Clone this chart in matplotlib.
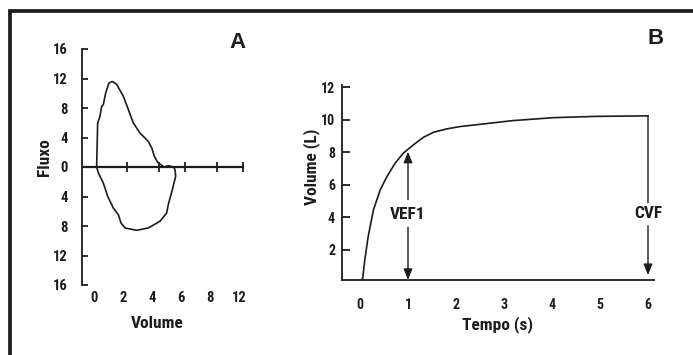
import matplotlib
matplotlib.use("Agg")
import matplotlib.pyplot as plt
from matplotlib.patches import Rectangle
from matplotlib import font_manager

# ---------------- data ----------------
# Panel A: flow-volume loop (expiration = positive, inspiration = negative)
loop_up_x = [0.18, 0.25, 0.41, 0.53, 0.64, 0.80, 1.03, 1.26, 1.56, 2.02, 2.37, 2.71, 3.17, 3.74, 3.98, 4.16, 4.39, 4.62, 4.83, 5.12, 5.47]
loop_up_y = [0.0, 5.97, 6.88, 8.23, 8.45, 10.0, 11.4, 11.6, 11.2, 9.6, 7.77, 5.97, 4.6, 3.48, 2.58, 1.45, 0.64, 0.31, 0.0, 0.18, 0.0]
loop_dn_x = [5.59, 5.63, 5.40, 5.12, 5.01, 4.55, 3.74, 2.94, 2.14, 1.86, 1.68, 1.33, 0.94, 0.64, 0.30, 0.18]
loop_dn_y = [-0.37, -1.26, -3.08, -5.11, -6.24, -7.36, -8.27, -8.58, -8.27, -7.59, -6.47, -5.56, -3.97, -2.17, -0.81, 0.0]
a_yticks = [16, 12, 8, 4, 0, -4, -8, -12, -16]
a_yticklabels = ["16", "12", "8", "4", "0", "4", "8", "12", "16"]
a_xticks = [0, 2, 4, 6, 8, 10]
a_xticklabels = ["0", "2", "4", "6", "8", "12"]
a_zero_ticks = [2.3, 4.5, 6.3, 8.5, 10.3]

# Panel B: volume-time curve
b_t = [0.035, 0.056, 0.10, 0.17, 0.28, 0.42, 0.56, 0.73, 0.90, 1.11, 1.32, 1.53, 1.81, 2.08, 2.5, 3.19, 4.03, 4.93, 6.0]
b_v = [0.15, 0.26, 1.38, 2.82, 4.46, 5.69, 6.51, 7.33, 7.95, 8.46, 8.93, 9.24, 9.45, 9.59, 9.73, 9.96, 10.14, 10.22, 10.25]
b_xticks = [0, 1, 2, 3, 4, 5, 6]
b_yticks = [2, 4, 6, 8, 10, 12]
vef1_t, vef1_v = 1.0, 8.05
cvf_t, cvf_v = 6.0, 10.25

# ---------------- fonts ----------------
names = {f.name for f in font_manager.fontManager.ttflist}
narrow_name = next((n for n in ["Liberation Sans Narrow", "Arial Narrow", "Roboto Condensed",
                                "Open Sans Condensed"] if n in names), None)
if narrow_name:
    NARROW = [narrow_name, "DejaVu Sans"]
    SCALE = 1.0
else:
    NARROW = ["Liberation Sans", "DejaVu Sans"]
    SCALE = 0.92
BOLD = ["Liberation Sans", "DejaVu Sans"]

# ---------------- figure ----------------
W, H = 693, 355
fig = plt.figure(figsize=(W / 100, H / 100), dpi=100)
INK = "#1e1b1c"
TICK_A = 10.5 * SCALE
TICK_B = 10.0 * SCALE
LABEL = 12.5 * SCALE

def fx(px):
    return px / W

def fy(py):
    return 1 - py / H

# outer frame (extends past right/bottom edges)
fig.patches.append(Rectangle((fx(10), fy(400)), fx(800), fy(11.5) - fy(400),
                             transform=fig.transFigure, fill=False,
                             edgecolor=INK, linewidth=2.7, zorder=0))

# ---------- Panel A ----------
a_left, a_right, a_top, a_bot = 82, 253.5, 49, 285
axA = fig.add_axes([fx(a_left), fy(a_bot), (a_right - a_left) / W, (a_bot - a_top) / H])
axA.set_xlim(-0.83, 11)
axA.set_ylim(-16, 16)
axA.patch.set_alpha(0)
for s in ["top", "right", "bottom"]:
    axA.spines[s].set_visible(False)
axA.spines["left"].set_linewidth(1.3)
axA.spines["left"].set_color(INK)
axA.set_yticks(a_yticks)
axA.set_yticklabels(a_yticklabels)
axA.tick_params(axis="y", direction="in", length=4, width=1.3, pad=10, colors=INK)
axA.set_xticks(a_xticks)
axA.set_xticklabels(a_xticklabels)
axA.tick_params(axis="x", length=0, pad=4, colors=INK)
for lab in axA.get_xticklabels() + axA.get_yticklabels():
    lab.set_family(NARROW)
    lab.set_fontweight("bold")
    lab.set_fontsize(TICK_A)
    lab.set_color(INK)

axA.axhline(0, xmin=0, xmax=(10.3 + 0.83) / 11.83, color=INK, lw=1.6)
axA.plot(a_zero_ticks, [0] * len(a_zero_ticks), linestyle="none", marker="|",
         markersize=7, markeredgewidth=1.3, color=INK)
axA.plot(loop_up_x + loop_dn_x, loop_up_y + loop_dn_y, color=INK, lw=1.2,
         solid_joinstyle="round")

fig.text(fx(45), fy(157), "Fluxo", rotation=90, ha="center", va="center",
         family=NARROW, fontweight="bold", fontsize=LABEL, color=INK)
fig.text(fx(157), fy(323), "Volume", ha="center", va="center",
         family=NARROW, fontweight="bold", fontsize=LABEL, color=INK)
fig.text(fx(238), fy(42), "A", ha="center", va="center",
         family=BOLD, fontweight="bold", fontsize=16, color=INK)

# ---------- Panel B ----------
b_left, b_right, b_top, b_bot = 342, 654, 85, 280
axB = fig.add_axes([fx(b_left), fy(b_bot), (b_right - b_left) / W, (b_bot - b_top) / H])
axB.set_xlim(-0.375, 6.125)
axB.set_ylim(0.15, 12.15)
axB.patch.set_alpha(0)
for s in ["top", "right"]:
    axB.spines[s].set_visible(False)
for s in ["left", "bottom"]:
    axB.spines[s].set_linewidth(1.3)
    axB.spines[s].set_color(INK)
axB.set_yticks(b_yticks)
axB.set_xticks(b_xticks)
axB.tick_params(axis="y", direction="in", length=5.5, width=1.3, pad=5, colors=INK)
axB.tick_params(axis="x", length=0, pad=13, colors=INK)
for lab in axB.get_xticklabels() + axB.get_yticklabels():
    lab.set_family(NARROW)
    lab.set_fontweight("bold")
    lab.set_fontsize(TICK_B)
    lab.set_color(INK)

axB.plot(b_t, b_v, color=INK, lw=1.2, solid_joinstyle="round")

arrow_kw = dict(arrowstyle="-|>,head_length=0.55,head_width=0.22", color=INK,
                lw=1.0, shrinkA=0, shrinkB=0, mutation_scale=12)
line_kw = dict(arrowstyle="-", color=INK, lw=1.0, shrinkA=0, shrinkB=0)
# VEF1 double arrow split by label
axB.annotate("", xy=(vef1_t, vef1_v), xytext=(vef1_t, 5.1), arrowprops=arrow_kw)
axB.annotate("", xy=(vef1_t, 0.15), xytext=(vef1_t, 3.4), arrowprops=arrow_kw)
axB.text(vef1_t, 4.2, "VEF1", ha="center", va="center", family=NARROW,
         fontweight="bold", fontsize=LABEL, color=INK)
# CVF arrow split by label
axB.annotate("", xy=(cvf_t, 4.9), xytext=(cvf_t, cvf_v), arrowprops=line_kw)
axB.annotate("", xy=(cvf_t, 0.45), xytext=(cvf_t, 3.5), arrowprops=arrow_kw)
axB.text(cvf_t, 4.25, "CVF", ha="center", va="center", family=NARROW,
         fontweight="bold", fontsize=LABEL, color=INK)

fig.text(fx(312), fy(167), "Volume (L)", rotation=90, ha="center", va="center",
         family=NARROW, fontweight="bold", fontsize=LABEL, color=INK)
fig.text(fx(498), fy(325), "Tempo (s)", ha="center", va="center",
         family=NARROW, fontweight="bold", fontsize=LABEL, color=INK)
fig.text(fx(656), fy(39), "B", ha="center", va="center",
         family=BOLD, fontweight="bold", fontsize=16, color=INK)

fig.savefig("out.png", dpi=100, facecolor="white")
